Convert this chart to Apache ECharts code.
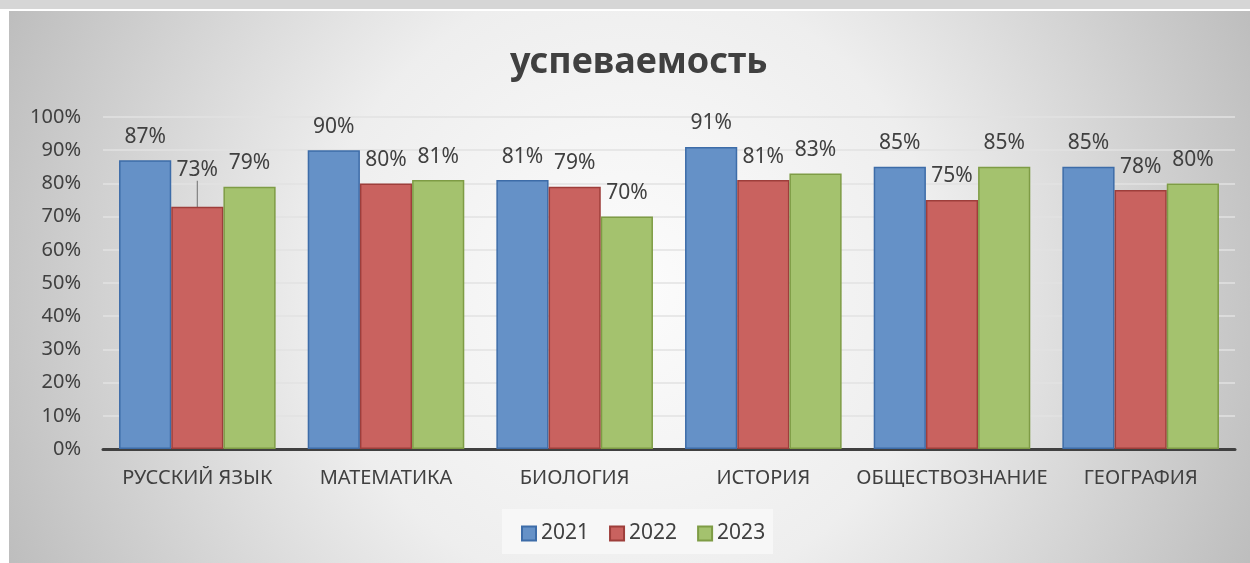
<!DOCTYPE html>
<html>
<head>
<meta charset="utf-8">
<script src="https://cdn.jsdelivr.net/npm/echarts@6/dist/echarts.min.js"></script>
<style>
    html, body {margin: 0; padding: 0; background: #ffffff;}
    #chart {width: 1250px; height: 563px;}
</style>
</head>
<body>
<div id="chart"></div>
<script>
// данные
var subjects = ['РУССКИЙ ЯЗЫК', 'МАТЕМАТИКА', 'БИОЛОГИЯ', 'ИСТОРИЯ', 'ОБЩЕСТВОЗНАНИЕ', 'ГЕОГРАФИЯ'];
var years = ['2021', '2022', '2023'];
var y2021 = [87, 90, 81, 91, 85, 85];
var y2022 = [73, 80, 79, 81, 75, 78];
var y2023 = [79, 81, 70, 83, 85, 80];

var fills = ['#6591c7', '#c9625f', '#a4c26e'];
var borders = ['#3d6ca8', '#9e3e3b', '#7e9c45'];
var textColor = '#404040';
var font = 'Noto Sans';

var myChart = echarts.init(document.getElementById('chart'));

function makeSeries(name, values, idx) {
    return {
        name: name,
        type: 'bar',
        data: values.slice(),
        barGap: '0%',
        barCategoryGap: '17%',
        itemStyle: {
            color: fills[idx],
            borderColor: borders[idx],
            borderWidth: 1.5
        },
        label: {
            show: true,
            position: 'top',
            distance: 13,
            formatter: '{c}%',
            color: textColor,
            fontFamily: font,
            fontSize: 21
        },
        labelLine: {show: false},
        z: 3
    };
}

var series = [
    makeSeries(years[0], y2021, 0),
    makeSeries(years[1], y2022, 1),
    makeSeries(years[2], y2023, 2)
];
// подпись 73% сдвинута вверх с выноской
series[1].data[0] = {
    value: y2022[0],
    labelLine: {show: true, lineStyle: {color: '#808080', width: 1.2}}
};
series[1].labelLayout = function (params) {
    if (params.dataIndex === 0) {
        return {dy: -13};
    }
    return {};
};

option = {
    animation: false,
    textStyle: {fontFamily: font},
    graphic: [
        {
            type: 'rect',
            z: -10,
            silent: true,
            shape: {x: 0, y: 0, width: 1250, height: 9},
            style: {fill: '#d6d6d6'}
        },
        {
            type: 'rect',
            z: -10,
            silent: true,
            shape: {x: 9, y: 11, width: 1241, height: 552},
            style: {
                fill: new echarts.graphic.RadialGradient(0.5, 0.5, 1.25, [
                    {offset: 0, color: '#fcfcfc'},
                    {offset: 0.45, color: '#eeeeee'},
                    {offset: 1, color: '#bcbcbc'}
                ])
            }
        },
        {
            type: 'rect',
            z: -9,
            silent: true,
            shape: {x: 502, y: 509, width: 271, height: 45},
            style: {fill: '#f7f7f7'}
        }
    ],
    title: {
        text: 'успеваемость',
        left: 505,
        top: 40,
        textStyle: {
            fontFamily: font,
            fontSize: 36,
            fontWeight: 'bold',
            color: textColor
        }
    },
    legend: {
        data: years,
        bottom: 14,
        left: 516,
        icon: 'rect',
        itemWidth: 14,
        itemHeight: 14,
        itemGap: 20,
        textStyle: {
            fontFamily: font,
            fontSize: 21,
            color: textColor
        }
    },
    grid: {
        left: 103,
        right: 15,
        top: 117,
        bottom: 114
    },
    xAxis: {
        type: 'category',
        data: subjects,
        axisTick: {show: false},
        axisLine: {lineStyle: {color: '#404040', width: 3}},
        axisLabel: {
            interval: 0,
            margin: 19,
            color: textColor,
            fontFamily: font,
            fontSize: 20
        }
    },
    yAxis: {
        type: 'value',
        min: 0,
        max: 100,
        interval: 10,
        axisLine: {show: false},
        axisTick: {show: false},
        splitLine: {lineStyle: {color: '#e2e2e2', width: 1.5}},
        axisLabel: {
            formatter: '{value}%',
            margin: 22,
            color: textColor,
            fontFamily: font,
            fontSize: 20
        }
    },
    series: series
};
myChart.setOption(option);
</script>
</body>
</html>
